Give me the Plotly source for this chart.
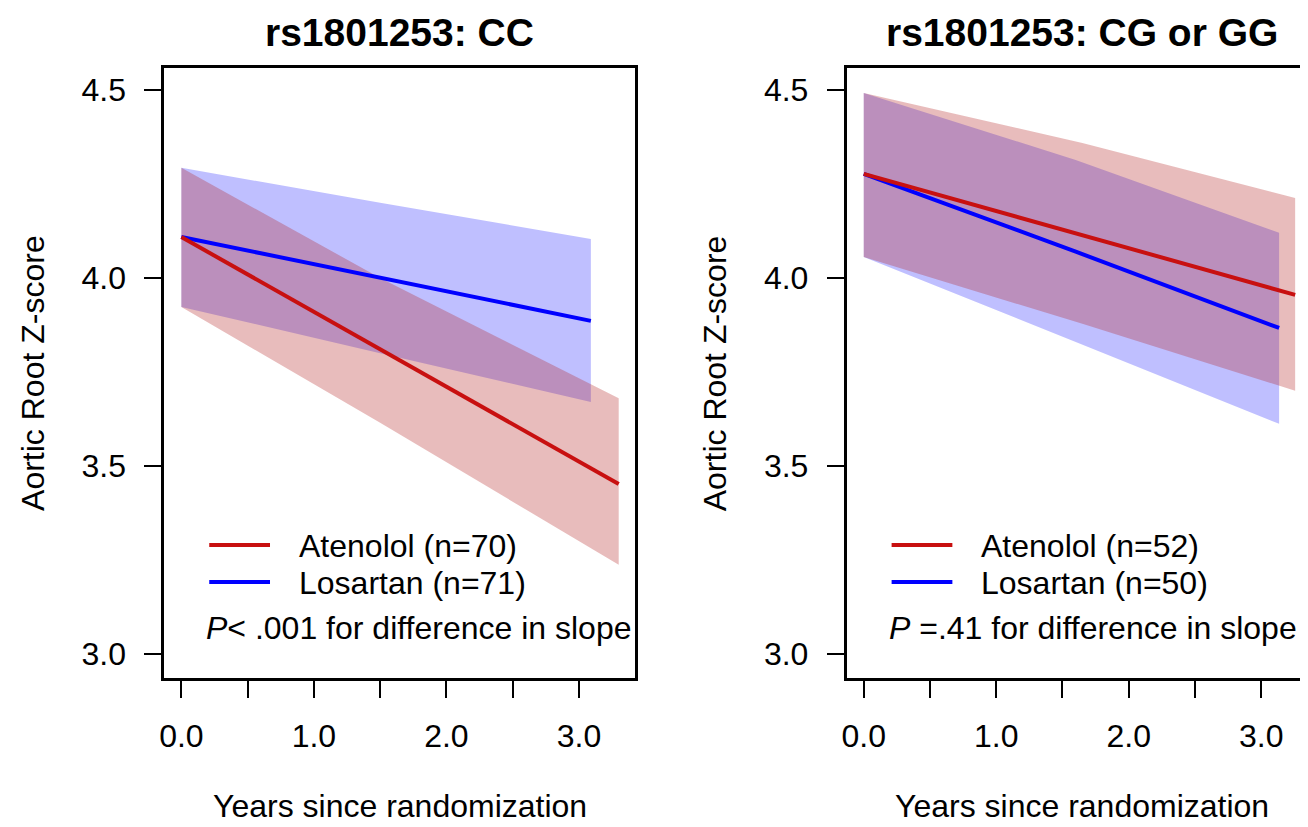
import plotly.graph_objects as go

# ---- data ----
# panel 1: rs1801253 CC
cc_ate_x = [0.0, 1.5, 3.30]
cc_ate_y = [4.109, 3.810, 3.452]
cc_ate_hi = [4.293, 4.000, 3.680]
cc_ate_lo = [3.923, 3.615, 3.237]

cc_los_x = [0.0, 1.5, 3.09]
cc_los_y = [4.109, 4.000, 3.886]
cc_los_hi = [4.293, 4.200, 4.104]
cc_los_lo = [3.923, 3.800, 3.670]

# panel 2: rs1801253 CG or GG
gg_ate_x = [0.0, 1.65, 3.256]
gg_ate_y = [4.277, 4.114, 3.955]
gg_ate_hi = [4.492, 4.359, 4.213]
gg_ate_lo = [4.056, 3.878, 3.700]

gg_los_x = [0.0, 1.6, 3.135]
gg_los_y = [4.277, 4.070, 3.867]
gg_los_hi = [4.492, 4.314, 4.120]
gg_los_lo = [4.056, 3.830, 3.612]

panel_titles = ["rs1801253: CC", "rs1801253: CG or GG"]
legend_ate = ["Atenolol (n=70)", "Atenolol (n=52)"]
legend_los = ["Losartan (n=71)", "Losartan (n=50)"]
p_text = ["<i>P</i>< .001 for difference in slope", "<i>P</i> =.41 for difference in slope"]

x_ticks = [0.0, 0.5, 1.0, 1.5, 2.0, 2.5, 3.0]
x_ticktext = ["0.0", "", "1.0", "", "2.0", "", "3.0"]
y_ticks = [3.0, 3.5, 4.0, 4.5]
y_ticktext = ["3.0", "3.5", "4.0", "4.5"]

# ---- styling ----
# the page body has an 8px margin, so the figure is drawn 8px smaller and
# every position below is given in page pixels and shifted by that margin
PAD = 8
W, H = 1308 - PAD, 827 - PAD
FONT = "Arial, Liberation Sans, sans-serif"
RED = "rgb(200,16,16)"
BLUE = "rgb(0,0,255)"
RED_FILL = "rgba(178,34,34,0.30)"
BLUE_FILL = "rgba(0,0,255,0.25)"


def px(v):
    return (v - PAD) / W


def py(v):
    return 1 - (v - PAD) / H


fig = go.Figure()


def add_panel(i, ate, los):
    xa = "x" if i == 0 else "x2"
    ya = "y" if i == 0 else "y2"
    # (x, y, hi, lo, line colour, fill colour); blue first so red sits on top
    for x, y, hi, lo, col, fill in [los + (BLUE, BLUE_FILL), ate + (RED, RED_FILL)]:
        fig.add_trace(go.Scatter(
            x=x + x[::-1], y=hi + lo[::-1], fill="toself", fillcolor=fill,
            line=dict(width=0), mode="lines", hoverinfo="skip",
            showlegend=False, xaxis=xa, yaxis=ya))
    for x, y, hi, lo, col, fill in [los + (BLUE, BLUE_FILL), ate + (RED, RED_FILL)]:
        fig.add_trace(go.Scatter(
            x=x, y=y, mode="lines", line=dict(color=col, width=4),
            showlegend=False, xaxis=xa, yaxis=ya))


add_panel(0, (cc_ate_x, cc_ate_y, cc_ate_hi, cc_ate_lo),
          (cc_los_x, cc_los_y, cc_los_hi, cc_los_lo))
add_panel(1, (gg_ate_x, gg_ate_y, gg_ate_hi, gg_ate_lo),
          (gg_los_x, gg_los_y, gg_los_hi, gg_los_lo))

xaxis_common = dict(
    tickvals=x_ticks, ticktext=x_ticktext, ticks="outside", ticklen=17,
    tickwidth=2, tickcolor="black", showline=True, linecolor="black",
    linewidth=3, mirror=True, showgrid=False, zeroline=False,
    tickfont=dict(family=FONT, size=32, color="black"),
    ticklabelstandoff=11, fixedrange=True,
)
yaxis_common = dict(
    tickvals=y_ticks, ticktext=y_ticktext, ticks="outside", ticklen=17,
    tickwidth=2, tickcolor="black", showline=True, linecolor="black",
    linewidth=3, showgrid=False, zeroline=False, range=[2.936, 4.5585],
    tickfont=dict(family=FONT, size=32, color="black"),
    ticklabelstandoff=12, fixedrange=True,
)

fig.update_layout(
    width=W, height=H,
    margin=dict(l=0, r=0, t=0, b=0),
    paper_bgcolor="white", plot_bgcolor="white",
    showlegend=False,
    xaxis=dict(xaxis_common, domain=[px(160), px(632)], range=[-0.128, 3.42]),
    yaxis=dict(yaxis_common, domain=[py(678), py(68)], mirror=True),
    xaxis2=dict(xaxis_common, domain=[px(845), 1.0], range=[-0.128, 3.353], anchor="y2"),
    yaxis2=dict(yaxis_common, domain=[py(678), py(68)], mirror=False, anchor="x2"),
)


def note(text, x, y, size, xanchor="center", angle=0):
    return dict(text=text, x=px(x), y=py(y), xref="paper", yref="paper",
                xanchor=xanchor, yanchor="middle", showarrow=False,
                textangle=angle, font=dict(family=FONT, size=size, color="black"))


anns = []
shapes = []
for i in range(2):
    off = 0 if i == 0 else 685
    cx = 396 + off
    anns.append(note("<b>" + panel_titles[i] + "</b>", cx, 32, 39))
    anns.append(note("Years since randomization", cx, 806, 32))
    anns.append(note("Aortic Root Z-score", 28 + off, 373, 32, angle=-90))
    # legend
    for txt, col, yy in [(legend_ate[i], RED, 545), (legend_los[i], BLUE, 582)]:
        shapes.append(dict(type="line", xref="paper", yref="paper",
                           x0=px(205 + off), x1=px(266 + off), y0=py(yy), y1=py(yy),
                           line=dict(color=col, width=4)))
        anns.append(note(txt, 293 + off, yy + 1, 32, xanchor="left"))
    anns.append(note(p_text[i], 200 + off, 628, 32, xanchor="left"))

fig.update_layout(annotations=anns, shapes=shapes)

fig.write_html("out.html")
